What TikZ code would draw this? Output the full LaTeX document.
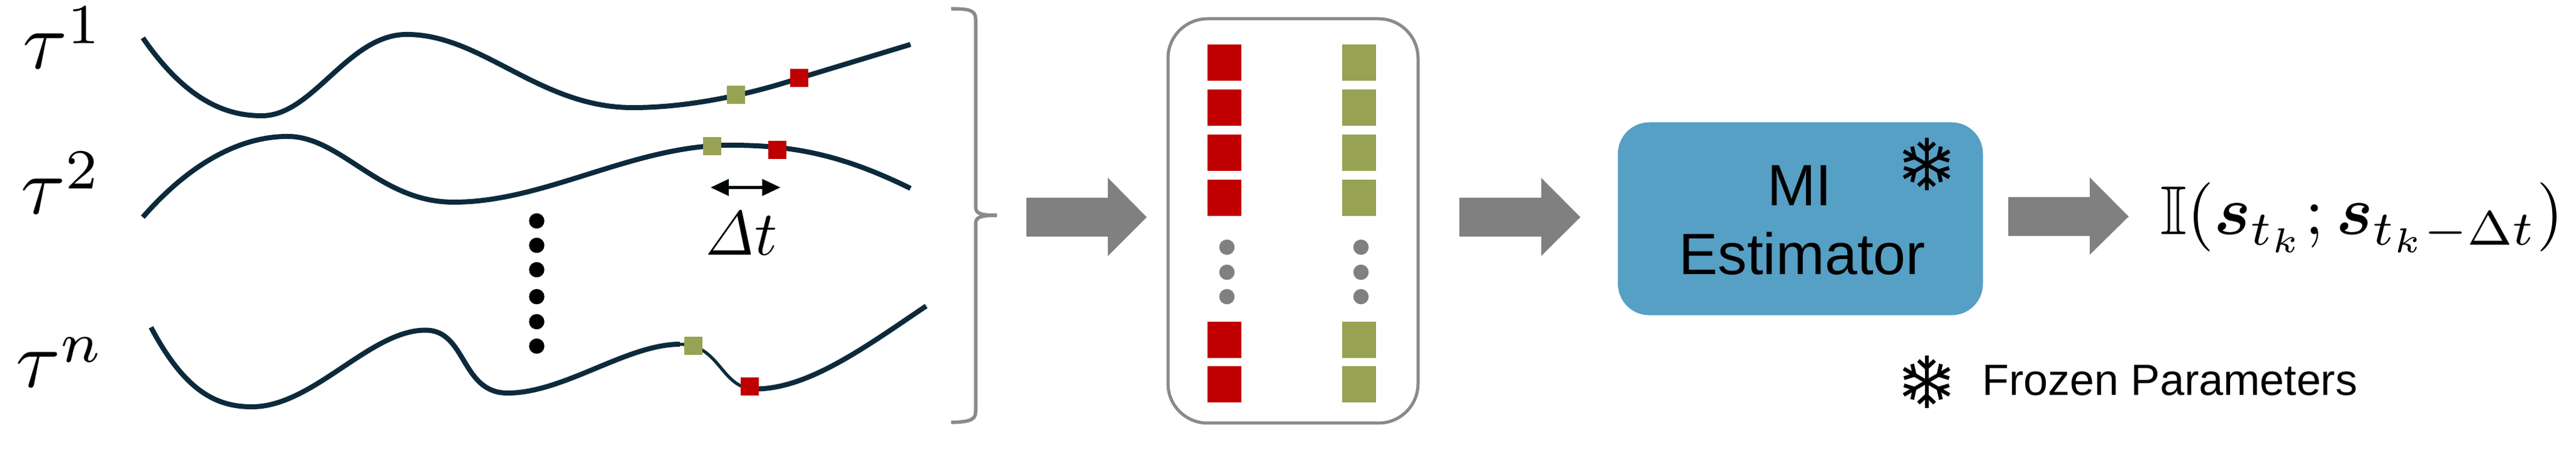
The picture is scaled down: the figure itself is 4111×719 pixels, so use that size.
\documentclass[tikz,border=0pt]{standalone}
\usepackage{amsmath,amssymb,bm}
\usepackage[no-math]{fontspec}
\setmainfont{Liberation Sans}
\usetikzlibrary{arrows.meta}
\definecolor{curvecol}{HTML}{0B2A3B}
\definecolor{redsq}{HTML}{C00000}
\definecolor{greensq}{HTML}{98A253}
\definecolor{blockgray}{HTML}{808080}
\definecolor{framegray}{HTML}{8A8A8A}
\definecolor{miblue}{HTML}{569FC5}
\newlength{\pxu}\setlength{\pxu}{0.01cm}
\newcommand{\lowsup}[1]{\raisebox{-0.5pt}{$\scriptstyle #1$}}
\tikzset{
  trajectory/.style={draw=curvecol,line width=8\pxu},
  smallred/.style={fill=redsq,draw=none,minimum width=29\pxu,minimum height=29\pxu,inner sep=0},
  smallgreen/.style={fill=greensq,draw=none,minimum width=29\pxu,minimum height=29\pxu,inner sep=0},
  bigred/.style={fill=redsq,draw=none,minimum width=54\pxu,minimum height=58\pxu,inner sep=0},
  biggreen/.style={fill=greensq,draw=none,minimum width=54\pxu,minimum height=58\pxu,inner sep=0},
  bdot/.style={circle,fill=black,draw=none,minimum size=24.5\pxu,inner sep=0},
  gdot/.style={circle,fill=blockgray,draw=none,minimum size=24.5\pxu,inner sep=0},
  tauL/.style={anchor=base west,inner sep=0,outer sep=0,scale=3.67},
  blockarrow/.style={fill=blockgray,draw=none},
  mitext/.style={anchor=base,inner sep=0,scale=2.65},
  flake/.pic={
    \foreach \a in {90,150,210,270,330,30}{
      \begin{scope}[rotate=\a]
        \draw[line width=6\pxu,black] (0,0) -- (42,0);
        \draw[line width=6\pxu,black,miter limit=2] (34,13) -- (22,0) -- (34,-13);
      \end{scope}
    }
  }
}
\begin{document}
\begin{tikzpicture}[x=0.01cm,y=-0.01cm]
\useasboundingbox (0,0) rectangle (4111,719);
% labels
\node[tauL] (t1) at (36,110) {$\tau^{\lowsup{1}}$};
\node[tauL] (t2) at (33,342) {$\tau^{\lowsup{2}}$};
\node[tauL] (tn) at (25,619) {$\tau^{\lowsup{n}}$};
% trajectories
\draw[trajectory] (228,60.5) .. controls (300,165) and (365,185) .. (418,185) .. controls (500,185) and (555,55) .. (649,55) .. controls (770,55) and (860,172) .. (1010,172) .. controls (1100,172) and (1200,150) .. (1275,125) -- (1453,71);
\draw[trajectory] (228,347) .. controls (295,270) and (375,218) .. (459,218) .. controls (545,218) and (605,323) .. (724,323) .. controls (870,323) and (1010,232) .. (1165,232) .. controls (1260,232) and (1340,245) .. (1453,301);
\draw[trajectory] (241,523) .. controls (295,625) and (345,650) .. (402,650) .. controls (500,650) and (590,527.5) .. (679,527.5) .. controls (745,527.5) and (735,628) .. (810,628) .. controls (900,628) and (1000,550) .. (1085,550);
\draw[trajectory,line width=5\pxu] (1085,550) .. controls (1150,550) and (1150,621.5) .. (1205,621.5);
\draw[trajectory] (1205,621.5) .. controls (1290,621.5) and (1380,555) .. (1478,489);
% samples on trajectories
\node[smallgreen] (g1) at (1174.5,152) {};
\node[smallred] (r1) at (1275,125) {};
\node[smallgreen] (g2) at (1136.5,233.5) {};
\node[smallred] (r2) at (1240.5,240) {};
\node[smallgreen] (gn) at (1106.5,553) {};
\node[smallred] (rn) at (1196,617.5) {};
% vertical dots
\foreach \n/\y in {1/353,2/392,3/431,4/474,5/514,6/553}{\node[bdot] (bd\n) at (856.5,\y) {};}
% delta t
\coordinate (dl) at (1134,299.5);
\coordinate (dr) at (1245.5,299.5);
\draw[{Triangle[length=0.29cm,width=0.26cm]}-{Triangle[length=0.29cm,width=0.26cm]},line width=4.5\pxu,draw=black!85!curvecol,fill=black!85!curvecol] (dl) -- (dr);
\node[anchor=base west,inner sep=0,scale=2.85] (dt) at (1121,408) {$\mathit{\Delta}t$};
% brace
\draw[framegray,line width=5.5\pxu] (1518,14) .. controls (1545,14) and (1557,16) .. (1557,30) -- (1557,330) .. controls (1557,340) and (1562,344) .. (1591,344) .. controls (1562,344) and (1557,348) .. (1557,358) -- (1557,658) .. controls (1557,672) and (1545,674) .. (1518,675);
% block arrows
\fill[blockarrow] (1638,316) -- (1768,316) -- (1768,284) -- (1830,347) -- (1768,409) -- (1768,378) -- (1638,378) -- cycle;
\fill[blockarrow] (2329,316) -- (2459.5,316) -- (2459.5,284) -- (2522,347) -- (2459.5,409) -- (2459.5,378) -- (2329,378) -- cycle;
\fill[blockarrow] (3205,315) -- (3335,315) -- (3335,283.5) -- (3397,346) -- (3335,407) -- (3335,377) -- (3205,377) -- cycle;
% batch frame
\draw[framegray,line width=5\pxu,rounded corners=63\pxu] (1864,30) rectangle (2263,676);
\foreach \n/\y in {1/100.5,2/172,3/244.5,4/316.5,5/543,6/614}{
  \node[bigred] (br\n) at (1954,\y) {};
  \node[biggreen] (bg\n) at (2169.4,\y) {};
}
\foreach \n/\y in {1/395,2/435,3/474}{
  \node[gdot] (gl\n) at (1958,\y) {};
  \node[gdot] (gr\n) at (2172,\y) {};
}
% estimator
\fill[miblue,rounded corners=50\pxu] (2582,195.5) rectangle (3164.5,503.6);
\node[mitext] (mi) at (2872,329) {MI};
\node[mitext] (est) at (2876,439) {Estimator};
\pic at (3074.5,262.5) {flake};
\pic at (3074.5,610) {flake};
\node[anchor=base west,inner sep=0,scale=1.99] (fp) at (3162,632) {Frozen Parameters};
% output
\node[anchor=base west,inner sep=0,scale=3.14] (out) at (3445,375) {$\mathbb{I}(\boldsymbol{s}_{t_k};\boldsymbol{s}_{t_k-\Delta t})$};
\end{tikzpicture}
\end{document}
